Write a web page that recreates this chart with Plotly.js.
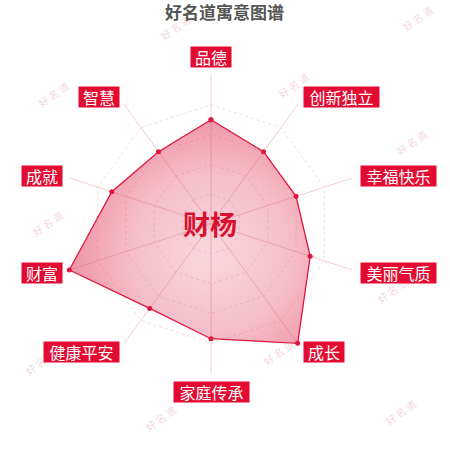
<!DOCTYPE html>
<html>
<head>
<meta charset="utf-8">
<script src="https://cdn.plot.ly/plotly-3.0.1.min.js"></script>
<style>html,body{margin:0;padding:0;background:#fff;}#chart{width:450px;height:450px;}</style>
</head>
<body>
<div id="chart"></div>
<script>
// ---- data ----
var categories = ['品德','创新独立','幸福快乐','美丽气质','成长','家庭传承','健康平安','财富','成就','智慧'];
var scores = [70, 60, 60, 70, 99, 77, 70, 100, 70, 60];
var chartTitle = '好名道寓意图谱';
var centerName = '财杨';
var watermarkText = '好名道';

// ---- layout helpers (pixel positions of label boxes, watermarks) ----
var W = 450, H = 450;
var labelCenters = [[211,57],[341.5,97.3],[398.8,176.3],[398.8,273.3],[324,352],[211.5,392],[81.5,352],[41.7,273.3],[41.7,176.3],[99,97.3]];
var watermarkPos = [[175,27],[417,18],[53,94],[293,85],[411,142],[47,223],[40,362],[160,418],[400,412],[278,352],[392,290]];
function px(x){return x/W;}
function py(y){return 1-y/H;}

var annotations = [];
watermarkPos.forEach(function(p){
  annotations.push({xref:'paper',yref:'paper',x:px(p[0]),y:py(p[1]),text:watermarkText.split('').join(' '),showarrow:false,
    textangle:-35,font:{family:'Noto Sans CJK SC',size:10,color:'rgba(230,150,170,0.4)'},xanchor:'center',yanchor:'middle'});
});
categories.forEach(function(c,i){
  var p = labelCenters[i];
  annotations.push({xref:'paper',yref:'paper',x:px(p[0]),y:py(p[1]),text:c,showarrow:false,
    xanchor:'center',yanchor:'middle',bgcolor:'#e30b32',borderpad:0,width:c.length*17.5+5,height:20,
    font:{family:'Noto Sans CJK SC',size:16,color:'#ffffff'}});
});
annotations.push({xref:'paper',yref:'paper',x:px(210),y:py(223),text:'<b>'+centerName+'</b>',showarrow:false,
  xanchor:'center',yanchor:'middle',font:{family:'Noto Sans CJK SC',size:27,color:'#d7102f'}});
annotations.push({xref:'paper',yref:'paper',x:px(224),y:py(12),text:'<b>'+chartTitle+'</b>',showarrow:false,
  xanchor:'center',yanchor:'middle',font:{family:'Noto Sans CJK SC',size:17,color:'#555555'}});

var trace = {
  type:'scatterpolar',
  r: scores.concat([scores[0]]),
  theta: categories.concat([categories[0]]),
  mode:'lines+markers',
  fill:'toself',
  fillcolor:'rgba(226,60,92,0.4)',
  line:{color:'#e0173d',width:1.3},
  marker:{color:'#e0173d',size:5},
  hoverinfo:'skip'
};

var layout = {
  width:W,height:H,
  margin:{l:0,r:0,t:0,b:0},
  paper_bgcolor:'#ffffff',
  showlegend:false,
  polar:{
    domain:{x:[62/W,360/W],y:[77/H,375/H]},
    gridshape:'linear',
    bgcolor:'rgba(0,0,0,0)',
    radialaxis:{range:[0,100],tickvals:[20,40,60,80,100],showticklabels:false,ticks:'',showline:false,
      gridcolor:'rgba(238,185,198,0.55)',griddash:'dot',gridwidth:1},
    angularaxis:{direction:'clockwise',rotation:90,showticklabels:false,ticks:'',showline:false,
      gridcolor:'rgba(238,195,205,0.85)',gridwidth:1}
  },
  annotations:annotations
};

var gd = document.getElementById('chart');
Plotly.newPlot(gd,[trace],layout,{staticPlot:true}).then(function(){
  try{
    var sub = gd._fullLayout.polar._subplot;
    var fills = gd.querySelectorAll('.js-fill');
    var svg = gd.querySelector('svg.main-svg');
    var defs = svg.querySelector('defs');
    var NS='http://www.w3.org/2000/svg';
    fills.forEach(function(path,k){
      var m = path.getScreenCTM().inverse();
      var pt = svg.createSVGPoint(); pt.x = sub.cx; pt.y = sub.cy + 30;
      var loc = pt.matrixTransform(m);
      var g = document.createElementNS(NS,'radialGradient');
      g.setAttribute('id','rg'+k);
      g.setAttribute('gradientUnits','userSpaceOnUse');
      g.setAttribute('cx',loc.x); g.setAttribute('cy',loc.y); g.setAttribute('r',sub.radius*1.05);
      [[0,'#e23c5c',0.2],[0.5,'#e23c5c',0.33],[1,'#e23c5c',0.6]].forEach(function(s){
        var st=document.createElementNS(NS,'stop');
        st.setAttribute('offset',s[0]); st.setAttribute('stop-color',s[1]); st.setAttribute('stop-opacity',s[2]);
        g.appendChild(st);
      });
      defs.appendChild(g);
      path.style.fill='url(#rg'+k+')';
      path.style.fillOpacity=1;
    });
  }catch(e){console.log(e);}
});
</script>
</body>
</html>
